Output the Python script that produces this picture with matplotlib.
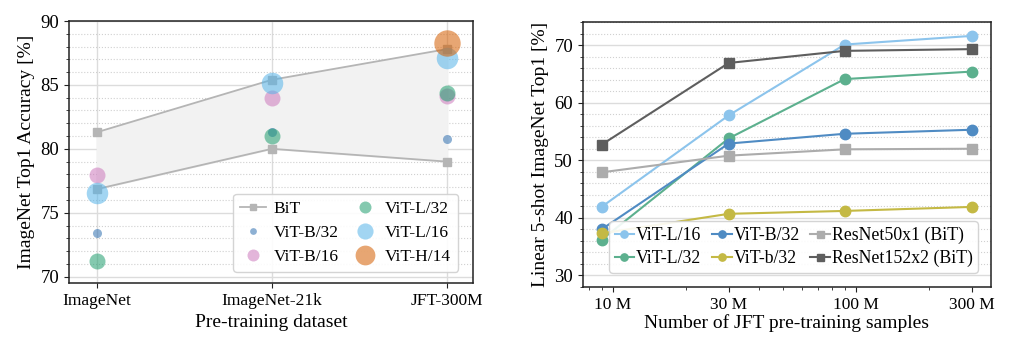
import numpy as np
import matplotlib
matplotlib.use("Agg")
from matplotlib import pyplot as plt
from matplotlib.ticker import MultipleLocator, FixedLocator, NullFormatter, LogLocator

plt.rcParams["font.family"] = ["Liberation Serif", "DejaVu Serif"]
plt.rcParams["font.size"] = 12.5

# ---- left panel data ----
datasets = ["ImageNet", "ImageNet-21k", "JFT-300M"]
bit_upper = [81.3, 85.4, 87.8]
bit_lower = [76.85, 80.0, 79.0]
vit_models = ["ViT-B/32", "ViT-B/16", "ViT-L/32", "ViT-L/16", "ViT-H/14"]
vit_acc = {
    "ViT-B/32": [73.4, 81.3, 80.75],
    "ViT-B/16": [77.95, 84.0, 84.1],
    "ViT-L/32": [71.2, 81.0, 84.4],
    "ViT-L/16": [76.55, 85.15, 87.1],
    "ViT-H/14": [None, None, 88.3],
}
vit_size = {"ViT-B/32": 6.5, "ViT-B/16": 11.5, "ViT-L/32": 11.5, "ViT-L/16": 15.5, "ViT-H/14": 19}
vit_color = {"ViT-B/32": "#2f6fb0", "ViT-B/16": "#cc78bc", "ViT-L/32": "#1f9e6e",
             "ViT-L/16": "#56b4e9", "ViT-H/14": "#d55e00"}

# ---- right panel data ----
samples = [9, 30, 90, 300]  # millions
fewshot = {
    "ViT-L/16": [41.9, 57.8, 70.1, 71.6],
    "ViT-L/32": [36.2, 53.8, 64.1, 65.4],
    "ViT-B/32": [38.0, 52.9, 54.6, 55.3],
    "ViT-b/32": [37.3, 40.7, 41.2, 41.9],
    "ResNet50x1 (BiT)": [47.9, 50.8, 51.9, 52.0],
    "ResNet152x2 (BiT)": [52.7, 66.9, 69.0, 69.3],
}
line_color = {"ViT-L/16": "#8cc4ec", "ViT-L/32": "#5cb08e", "ViT-B/32": "#4f8bc3",
              "ViT-b/32": "#c4b944", "ResNet50x1 (BiT)": "#acacac", "ResNet152x2 (BiT)": "#5e5e5e"}
line_marker = {"ViT-L/16": "o", "ViT-L/32": "o", "ViT-B/32": "o", "ViT-b/32": "o",
               "ResNet50x1 (BiT)": "s", "ResNet152x2 (BiT)": "s"}
legend_order = ["ViT-L/16", "ViT-L/32", "ViT-B/32", "ViT-b/32", "ResNet50x1 (BiT)", "ResNet152x2 (BiT)"]
xtick_vals = [10, 30, 100, 300]
xtick_labels = ["10 M", "30 M", "100 M", "300 M"]

fig = plt.figure(figsize=(10.1, 3.56), dpi=100)
ax1 = fig.add_axes([0.0683, 0.205, 0.4, 0.736])
ax2 = fig.add_axes([0.577, 0.194, 0.404, 0.744])

spine_c = "#222222"
for ax in (ax1, ax2):
    for s in ax.spines.values():
        s.set_color(spine_c)
        s.set_linewidth(1.1)
    ax.tick_params(which="both", color=spine_c, direction="out")
    ax.tick_params(which="major", length=3.5)
    ax.tick_params(which="minor", length=2)
    ax.tick_params(axis="y", labelsize=13.5)

# left panel
x = np.arange(len(datasets))
ax1.fill_between(x, bit_lower, bit_upper, color="#f2f2f2", zorder=1)
ax1.plot(x, bit_upper, color="#b5b5b5", marker="s", ms=6, lw=1.3, zorder=2, label="BiT")
ax1.plot(x, bit_lower, color="#b5b5b5", marker="s", ms=6, lw=1.3, zorder=2)
for m in vit_models:
    xs = [xi for xi, v in zip(x, vit_acc[m]) if v is not None]
    ys = [v for v in vit_acc[m] if v is not None]
    ax1.plot(xs, ys, ls="none", marker="o", ms=vit_size[m], color=vit_color[m],
             alpha=0.55, mec="none", zorder=3, label=m)
ax1.set_xlim(-0.16, 2.15)
ax1.set_ylim(69.5, 90)
ax1.set_xticks(x)
ax1.set_xticklabels(datasets)
ax1.yaxis.set_major_locator(MultipleLocator(5))
ax1.yaxis.set_minor_locator(MultipleLocator(1))
ax1.grid(which="major", color="#dcdcdc", lw=1.0, zorder=0)
ax1.grid(which="minor", axis="y", color="#d0d0d0", lw=0.8, ls=":", zorder=0)
ax1.set_axisbelow(True)
ax1.set_xlabel("Pre-training dataset", fontsize=14)
ax1.set_ylabel("ImageNet Top1 Accuracy [%]", fontsize=14)
h, l = ax1.get_legend_handles_labels()
ax1.legend(h, l, ncol=2, loc="lower right",
           fontsize=12.5, handlelength=1.5, handletextpad=0.4, columnspacing=0.8,
           labelspacing=0.45, borderpad=0.4, markerscale=0.75, framealpha=0.9,
           edgecolor="#d0d0d0", fancybox=True, bbox_to_anchor=(0.985, 0.01))

# right panel
for name in fewshot:
    ax2.plot(samples, fewshot[name], color=line_color[name], marker=line_marker[name],
             ms=7.5 if line_marker[name] == "o" else 7.2, lw=1.5, label=name, zorder=3)
ax2.set_xscale("log")
ax2.set_xlim(7.53, 359)
ax2.set_ylim(28, 74)
ax2.xaxis.set_major_locator(FixedLocator(xtick_vals))
ax2.set_xticklabels(xtick_labels)
ax2.xaxis.set_minor_locator(LogLocator(base=10, subs=np.arange(2, 10)))
ax2.xaxis.set_minor_formatter(NullFormatter())
ax2.yaxis.set_major_locator(MultipleLocator(10))
ax2.yaxis.set_minor_locator(MultipleLocator(2))
ax2.grid(which="major", axis="y", color="#dcdcdc", lw=1.0, zorder=0)
ax2.grid(which="minor", axis="y", color="#d0d0d0", lw=0.8, ls=":", zorder=0)
ax2.set_axisbelow(True)
ax2.set_xlabel("Number of JFT pre-training samples", fontsize=14, labelpad=1)
ax2.set_ylabel("Linear 5-shot ImageNet Top1 [%]", fontsize=14)
h2, l2 = ax2.get_legend_handles_labels()
hd = dict(zip(l2, h2))
ax2.legend([hd[n] for n in legend_order], legend_order, ncol=3, loc="lower right",
           fontsize=12.8, handlelength=1.1, handletextpad=0.1, columnspacing=0.6,
           labelspacing=0.35, borderpad=0.3, markerscale=0.7, framealpha=0.9,
           edgecolor="#d0d0d0", fancybox=True, bbox_to_anchor=(0.99, 0.02))

plt.savefig("out.png", dpi=100)
